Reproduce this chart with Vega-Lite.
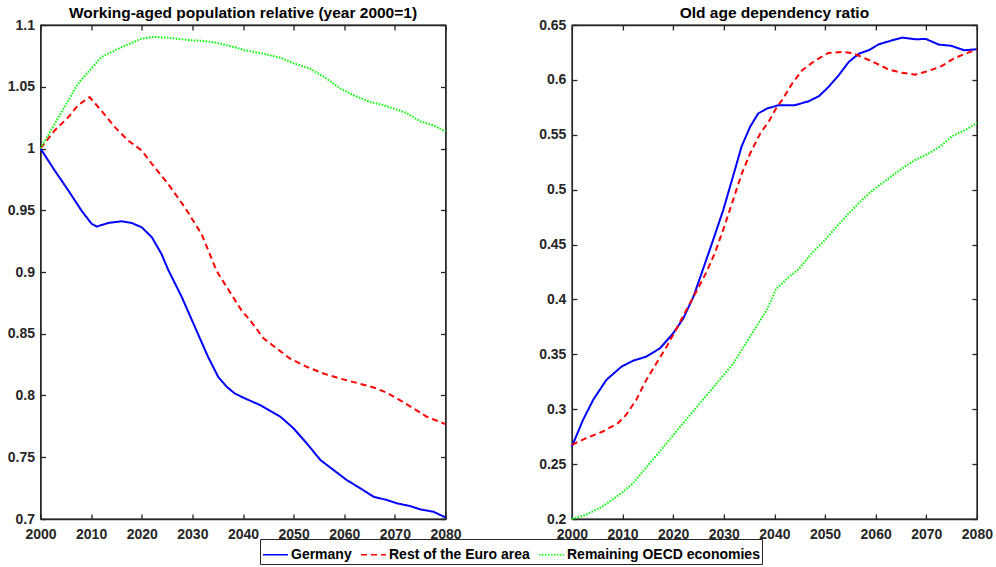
{
  "$schema": "https://vega.github.io/schema/vega-lite/v6.json",
  "padding": {"left": 3.5, "top": 5, "right": 0, "bottom": 0},
  "background": "white",
  "config": {
    "font": "Liberation Sans",
    "view": {"stroke": "#262626", "strokeWidth": 1.3},
    "axis": {"domainColor": "#262626", "domainWidth": 1.3, "tickColor": "#262626", "tickWidth": 1.3, "tickSize": -5, "labelFont": "Liberation Sans", "labelFontWeight": "bold", "labelFontSize": 14, "labelColor": "#262626", "grid": false, "title": null, "labelFlush": false, "labelOverlap": false},
    "title": {"fontSize": 15.5, "fontWeight": "bold", "font": "Liberation Sans", "color": "#000000", "offset": -3.3}
  },
  "datasets": {
    "wap": [
      {"s": "Germany", "year": 2000, "v": 1.0}, {"s": "Germany", "year": 2002.8, "v": 0.9822}, {"s": "Germany", "year": 2005.5, "v": 0.966}, {"s": "Germany", "year": 2008.1, "v": 0.9497}, {"s": "Germany", "year": 2010.1, "v": 0.939}, {"s": "Germany", "year": 2011.1, "v": 0.9368}, {"s": "Germany", "year": 2013.4, "v": 0.9397}, {"s": "Germany", "year": 2016, "v": 0.9411}, {"s": "Germany", "year": 2018, "v": 0.9397}, {"s": "Germany", "year": 2020, "v": 0.9362}, {"s": "Germany", "year": 2022, "v": 0.9281}, {"s": "Germany", "year": 2023.9, "v": 0.9146}, {"s": "Germany", "year": 2025.2, "v": 0.902}, {"s": "Germany", "year": 2027.9, "v": 0.8798}, {"s": "Germany", "year": 2030.5, "v": 0.8555}, {"s": "Germany", "year": 2033.1, "v": 0.8313}, {"s": "Germany", "year": 2035.1, "v": 0.8151}, {"s": "Germany", "year": 2036.8, "v": 0.807}, {"s": "Germany", "year": 2038.4, "v": 0.8016}, {"s": "Germany", "year": 2040.2, "v": 0.798}, {"s": "Germany", "year": 2043.4, "v": 0.7922}, {"s": "Germany", "year": 2047.4, "v": 0.7828}, {"s": "Germany", "year": 2050, "v": 0.7733}, {"s": "Germany", "year": 2052.6, "v": 0.7612}, {"s": "Germany", "year": 2055.3, "v": 0.7477}, {"s": "Germany", "year": 2057.9, "v": 0.7396}, {"s": "Germany", "year": 2060.5, "v": 0.7315}, {"s": "Germany", "year": 2063.2, "v": 0.7248}, {"s": "Germany", "year": 2065.8, "v": 0.718}, {"s": "Germany", "year": 2068.4, "v": 0.7154}, {"s": "Germany", "year": 2070.4, "v": 0.7127}, {"s": "Germany", "year": 2073, "v": 0.7105}, {"s": "Germany", "year": 2075, "v": 0.7078}, {"s": "Germany", "year": 2077.6, "v": 0.7059}, {"s": "Germany", "year": 2080, "v": 0.7013},
      {"s": "Rest of the Euro area", "year": 2000, "v": 1.0}, {"s": "Rest of the Euro area", "year": 2002.8, "v": 1.0146}, {"s": "Rest of the Euro area", "year": 2005.5, "v": 1.0254}, {"s": "Rest of the Euro area", "year": 2007.4, "v": 1.035}, {"s": "Rest of the Euro area", "year": 2009.7, "v": 1.0416}, {"s": "Rest of the Euro area", "year": 2012, "v": 1.0308}, {"s": "Rest of the Euro area", "year": 2014.7, "v": 1.0173}, {"s": "Rest of the Euro area", "year": 2017.3, "v": 1.0065}, {"s": "Rest of the Euro area", "year": 2020, "v": 0.9984}, {"s": "Rest of the Euro area", "year": 2022, "v": 0.9876}, {"s": "Rest of the Euro area", "year": 2025.2, "v": 0.9714}, {"s": "Rest of the Euro area", "year": 2028.5, "v": 0.9524}, {"s": "Rest of the Euro area", "year": 2031.8, "v": 0.9308}, {"s": "Rest of the Euro area", "year": 2034.5, "v": 0.9038}, {"s": "Rest of the Euro area", "year": 2035.1, "v": 0.8987}, {"s": "Rest of the Euro area", "year": 2039.7, "v": 0.869}, {"s": "Rest of the Euro area", "year": 2041.4, "v": 0.8609}, {"s": "Rest of the Euro area", "year": 2044.1, "v": 0.8461}, {"s": "Rest of the Euro area", "year": 2046.7, "v": 0.838}, {"s": "Rest of the Euro area", "year": 2049.3, "v": 0.8299}, {"s": "Rest of the Euro area", "year": 2052.6, "v": 0.8232}, {"s": "Rest of the Euro area", "year": 2055.9, "v": 0.8178}, {"s": "Rest of the Euro area", "year": 2059.2, "v": 0.8137}, {"s": "Rest of the Euro area", "year": 2062.5, "v": 0.8102}, {"s": "Rest of the Euro area", "year": 2065.8, "v": 0.8065}, {"s": "Rest of the Euro area", "year": 2068.4, "v": 0.8022}, {"s": "Rest of the Euro area", "year": 2071, "v": 0.7962}, {"s": "Rest of the Euro area", "year": 2073.7, "v": 0.7895}, {"s": "Rest of the Euro area", "year": 2076.3, "v": 0.7828}, {"s": "Rest of the Euro area", "year": 2080, "v": 0.7768},
      {"s": "Remaining OECD economies", "year": 2000, "v": 1.0}, {"s": "Remaining OECD economies", "year": 2002.8, "v": 1.02}, {"s": "Remaining OECD economies", "year": 2005.5, "v": 1.0389}, {"s": "Remaining OECD economies", "year": 2007.4, "v": 1.0524}, {"s": "Remaining OECD economies", "year": 2009.7, "v": 1.0632}, {"s": "Remaining OECD economies", "year": 2012, "v": 1.074}, {"s": "Remaining OECD economies", "year": 2016, "v": 1.082}, {"s": "Remaining OECD economies", "year": 2020, "v": 1.089}, {"s": "Remaining OECD economies", "year": 2022, "v": 1.0903}, {"s": "Remaining OECD economies", "year": 2025.2, "v": 1.0897}, {"s": "Remaining OECD economies", "year": 2029.8, "v": 1.0876}, {"s": "Remaining OECD economies", "year": 2032.5, "v": 1.087}, {"s": "Remaining OECD economies", "year": 2035, "v": 1.0854}, {"s": "Remaining OECD economies", "year": 2038.4, "v": 1.082}, {"s": "Remaining OECD economies", "year": 2040.4, "v": 1.0795}, {"s": "Remaining OECD economies", "year": 2043.4, "v": 1.0773}, {"s": "Remaining OECD economies", "year": 2047.4, "v": 1.0735}, {"s": "Remaining OECD economies", "year": 2050, "v": 1.069}, {"s": "Remaining OECD economies", "year": 2053.3, "v": 1.0646}, {"s": "Remaining OECD economies", "year": 2056, "v": 1.058}, {"s": "Remaining OECD economies", "year": 2059.3, "v": 1.0484}, {"s": "Remaining OECD economies", "year": 2061.9, "v": 1.043}, {"s": "Remaining OECD economies", "year": 2065.2, "v": 1.0376}, {"s": "Remaining OECD economies", "year": 2067.8, "v": 1.035}, {"s": "Remaining OECD economies", "year": 2070.5, "v": 1.0313}, {"s": "Remaining OECD economies", "year": 2072.4, "v": 1.0286}, {"s": "Remaining OECD economies", "year": 2075, "v": 1.022}, {"s": "Remaining OECD economies", "year": 2077.7, "v": 1.0186}, {"s": "Remaining OECD economies", "year": 2080, "v": 1.0138}
    ],
    "oadr": [
      {"s": "Germany", "year": 2000, "v": 0.266}, {"s": "Germany", "year": 2002.2, "v": 0.2903}, {"s": "Germany", "year": 2004.2, "v": 0.3085}, {"s": "Germany", "year": 2006.8, "v": 0.3267}, {"s": "Germany", "year": 2009.8, "v": 0.3388}, {"s": "Germany", "year": 2012.1, "v": 0.3442}, {"s": "Germany", "year": 2014.7, "v": 0.3479}, {"s": "Germany", "year": 2017.4, "v": 0.3555}, {"s": "Germany", "year": 2020, "v": 0.3691}, {"s": "Germany", "year": 2022, "v": 0.3827}, {"s": "Germany", "year": 2024, "v": 0.4024}, {"s": "Germany", "year": 2025.9, "v": 0.4276}, {"s": "Germany", "year": 2027.9, "v": 0.4542}, {"s": "Germany", "year": 2029.9, "v": 0.4815}, {"s": "Germany", "year": 2031.9, "v": 0.5133}, {"s": "Germany", "year": 2033.5, "v": 0.5391}, {"s": "Germany", "year": 2035.2, "v": 0.5573}, {"s": "Germany", "year": 2036.8, "v": 0.5694}, {"s": "Germany", "year": 2038.5, "v": 0.5739}, {"s": "Germany", "year": 2040.9, "v": 0.577}, {"s": "Germany", "year": 2044.1, "v": 0.577}, {"s": "Germany", "year": 2046.8, "v": 0.5806}, {"s": "Germany", "year": 2048.8, "v": 0.5852}, {"s": "Germany", "year": 2050.7, "v": 0.5936}, {"s": "Germany", "year": 2052.7, "v": 0.6042}, {"s": "Germany", "year": 2054.7, "v": 0.6164}, {"s": "Germany", "year": 2056.7, "v": 0.6239}, {"s": "Germany", "year": 2058.6, "v": 0.627}, {"s": "Germany", "year": 2060.6, "v": 0.6324}, {"s": "Germany", "year": 2063.3, "v": 0.6361}, {"s": "Germany", "year": 2065.2, "v": 0.6385}, {"s": "Germany", "year": 2067.9, "v": 0.637}, {"s": "Germany", "year": 2069.9, "v": 0.6373}, {"s": "Germany", "year": 2072.5, "v": 0.6321}, {"s": "Germany", "year": 2074.8, "v": 0.6312}, {"s": "Germany", "year": 2077.5, "v": 0.627}, {"s": "Germany", "year": 2080, "v": 0.6279},
      {"s": "Rest of the Euro area", "year": 2000, "v": 0.2676}, {"s": "Rest of the Euro area", "year": 2002.8, "v": 0.2736}, {"s": "Rest of the Euro area", "year": 2006.1, "v": 0.2797}, {"s": "Rest of the Euro area", "year": 2009.1, "v": 0.2873}, {"s": "Rest of the Euro area", "year": 2010.7, "v": 0.2948}, {"s": "Rest of the Euro area", "year": 2012.7, "v": 0.3085}, {"s": "Rest of the Euro area", "year": 2014.7, "v": 0.3267}, {"s": "Rest of the Euro area", "year": 2016.7, "v": 0.3418}, {"s": "Rest of the Euro area", "year": 2018.7, "v": 0.357}, {"s": "Rest of the Euro area", "year": 2020.7, "v": 0.3736}, {"s": "Rest of the Euro area", "year": 2022.6, "v": 0.3903}, {"s": "Rest of the Euro area", "year": 2024.6, "v": 0.4075}, {"s": "Rest of the Euro area", "year": 2026.6, "v": 0.425}, {"s": "Rest of the Euro area", "year": 2028.3, "v": 0.443}, {"s": "Rest of the Euro area", "year": 2030, "v": 0.465}, {"s": "Rest of the Euro area", "year": 2031.8, "v": 0.49}, {"s": "Rest of the Euro area", "year": 2033.5, "v": 0.514}, {"s": "Rest of the Euro area", "year": 2035.2, "v": 0.533}, {"s": "Rest of the Euro area", "year": 2037.2, "v": 0.5512}, {"s": "Rest of the Euro area", "year": 2039, "v": 0.563}, {"s": "Rest of the Euro area", "year": 2040.3, "v": 0.5739}, {"s": "Rest of the Euro area", "year": 2041.5, "v": 0.5815}, {"s": "Rest of the Euro area", "year": 2043.5, "v": 0.5967}, {"s": "Rest of the Euro area", "year": 2045.5, "v": 0.6088}, {"s": "Rest of the Euro area", "year": 2048.1, "v": 0.6179}, {"s": "Rest of the Euro area", "year": 2050.7, "v": 0.6245}, {"s": "Rest of the Euro area", "year": 2053.4, "v": 0.6255}, {"s": "Rest of the Euro area", "year": 2055.3, "v": 0.6245}, {"s": "Rest of the Euro area", "year": 2057.3, "v": 0.6209}, {"s": "Rest of the Euro area", "year": 2059.9, "v": 0.6155}, {"s": "Rest of the Euro area", "year": 2062.6, "v": 0.6094}, {"s": "Rest of the Euro area", "year": 2065.2, "v": 0.6064}, {"s": "Rest of the Euro area", "year": 2067.8, "v": 0.6048}, {"s": "Rest of the Euro area", "year": 2070.5, "v": 0.6082}, {"s": "Rest of the Euro area", "year": 2073.1, "v": 0.6127}, {"s": "Rest of the Euro area", "year": 2075.4, "v": 0.6194}, {"s": "Rest of the Euro area", "year": 2077.7, "v": 0.6239}, {"s": "Rest of the Euro area", "year": 2080, "v": 0.6276},
      {"s": "Remaining OECD economies", "year": 2000, "v": 0.2}, {"s": "Remaining OECD economies", "year": 2002.8, "v": 0.2039}, {"s": "Remaining OECD economies", "year": 2006.1, "v": 0.2115}, {"s": "Remaining OECD economies", "year": 2009.8, "v": 0.2236}, {"s": "Remaining OECD economies", "year": 2012.1, "v": 0.2327}, {"s": "Remaining OECD economies", "year": 2015.4, "v": 0.2509}, {"s": "Remaining OECD economies", "year": 2018.7, "v": 0.2691}, {"s": "Remaining OECD economies", "year": 2022, "v": 0.2873}, {"s": "Remaining OECD economies", "year": 2025.3, "v": 0.3055}, {"s": "Remaining OECD economies", "year": 2028.6, "v": 0.3236}, {"s": "Remaining OECD economies", "year": 2031.9, "v": 0.3418}, {"s": "Remaining OECD economies", "year": 2035.2, "v": 0.3661}, {"s": "Remaining OECD economies", "year": 2038.5, "v": 0.3903}, {"s": "Remaining OECD economies", "year": 2040.3, "v": 0.4091}, {"s": "Remaining OECD economies", "year": 2042.5, "v": 0.419}, {"s": "Remaining OECD economies", "year": 2044.8, "v": 0.4276}, {"s": "Remaining OECD economies", "year": 2047.4, "v": 0.4421}, {"s": "Remaining OECD economies", "year": 2049.7, "v": 0.4527}, {"s": "Remaining OECD economies", "year": 2052, "v": 0.4648}, {"s": "Remaining OECD economies", "year": 2054.7, "v": 0.4785}, {"s": "Remaining OECD economies", "year": 2057.3, "v": 0.4906}, {"s": "Remaining OECD economies", "year": 2059.9, "v": 0.5012}, {"s": "Remaining OECD economies", "year": 2062.6, "v": 0.5103}, {"s": "Remaining OECD economies", "year": 2065.2, "v": 0.5194}, {"s": "Remaining OECD economies", "year": 2067.8, "v": 0.527}, {"s": "Remaining OECD economies", "year": 2070.5, "v": 0.533}, {"s": "Remaining OECD economies", "year": 2073.1, "v": 0.5406}, {"s": "Remaining OECD economies", "year": 2075.1, "v": 0.5488}, {"s": "Remaining OECD economies", "year": 2077.7, "v": 0.5542}, {"s": "Remaining OECD economies", "year": 2080, "v": 0.5609}
    ]
  },
  "hconcat": [
    {
      "width": 405, "height": 494,
      "title": {"text": "Working-aged population relative (year 2000=1)", "anchor": "middle"},
      "data": {"name": "wap"},
      "layer": [
        {
          "mark": {"type": "line", "strokeWidth": 2},
          "encoding": {
            "x": {"field": "year", "type": "quantitative", "scale": {"domain": [2000, 2080], "nice": false, "zero": false}, "axis": {"orient": "bottom", "values": [2000, 2010, 2020, 2030, 2040, 2050, 2060, 2070, 2080], "format": "d", "labelPadding": 13}},
            "y": {"field": "v", "type": "quantitative", "scale": {"domain": [0.7, 1.1], "nice": false, "zero": false}, "axis": {"orient": "left", "values": [0.7, 0.75, 0.8, 0.85, 0.9, 0.95, 1, 1.05, 1.1], "format": "~g", "labelPadding": 11, "minExtent": 35.5, "maxExtent": 35.5}},
            "color": {"field": "s", "type": "nominal", "scale": {"domain": ["Germany", "Rest of the Euro area", "Remaining OECD economies"], "range": ["#0000ff", "#ff0000", "#00ff00"]}, "legend": {"orient": "none", "legendX": 219.5, "legendY": 514, "direction": "horizontal", "title": null, "strokeColor": "#262626", "fillColor": "white", "padding": 2, "symbolType": "stroke", "symbolSize": 625, "symbolStrokeWidth": 1.5, "labelFontSize": 14, "labelFontWeight": "bold", "labelColor": "#000000", "labelOffset": 2, "columnPadding": 6, "labelFont": "Liberation Sans", "labelLimit": 400}},
            "strokeDash": {"field": "s", "type": "nominal", "scale": {"domain": ["Germany", "Rest of the Euro area", "Remaining OECD economies"], "range": [[1, 0], [6, 4], [1.5, 1.5]]}, "legend": {"orient": "none", "legendX": 219.5, "legendY": 514, "direction": "horizontal", "title": null, "strokeColor": "#262626", "fillColor": "white", "padding": 2, "symbolType": "stroke", "symbolSize": 625, "symbolStrokeWidth": 1.5, "labelFontSize": 14, "labelFontWeight": "bold", "labelColor": "#000000", "labelOffset": 2, "columnPadding": 6, "labelFont": "Liberation Sans", "labelLimit": 400}}
          }
        },
        {
          "mark": {"type": "point", "opacity": 0},
          "encoding": {
            "x": {"field": "year", "type": "quantitative", "scale": {"domain": [2000, 2080], "nice": false, "zero": false}, "axis": {"orient": "top", "values": [2000, 2010, 2020, 2030, 2040, 2050, 2060, 2070, 2080], "labels": false, "minExtent": 0, "maxExtent": 0}},
            "y": {"field": "v", "type": "quantitative", "scale": {"domain": [0.7, 1.1], "nice": false, "zero": false}, "axis": {"orient": "right", "values": [0.7, 0.75, 0.8, 0.85, 0.9, 0.95, 1, 1.05, 1.1], "labels": false, "minExtent": 0, "maxExtent": 0}}
          }
        }
      ],
      "resolve": {"axis": {"x": "independent", "y": "independent"}}
    },
    {
      "width": 405, "height": 494,
      "title": {"text": "Old age dependency ratio", "anchor": "middle"},
      "data": {"name": "oadr"},
      "layer": [
        {
          "mark": {"type": "line", "strokeWidth": 2},
          "encoding": {
            "x": {"field": "year", "type": "quantitative", "scale": {"domain": [2000, 2080], "nice": false, "zero": false}, "axis": {"orient": "bottom", "values": [2000, 2010, 2020, 2030, 2040, 2050, 2060, 2070, 2080], "format": "d", "labelPadding": 13}},
            "y": {"field": "v", "type": "quantitative", "scale": {"domain": [0.2, 0.65], "nice": false, "zero": false}, "axis": {"orient": "left", "values": [0.2, 0.25, 0.3, 0.35, 0.4, 0.45, 0.5, 0.55, 0.6, 0.65], "format": "~g", "labelPadding": 11, "minExtent": 35.5, "maxExtent": 35.5}},
            "color": {"field": "s", "type": "nominal", "scale": {"domain": ["Germany", "Rest of the Euro area", "Remaining OECD economies"], "range": ["#0000ff", "#ff0000", "#00ff00"]}, "legend": {"orient": "none", "legendX": 219.5, "legendY": 514, "direction": "horizontal", "title": null, "strokeColor": "#262626", "fillColor": "white", "padding": 2, "symbolType": "stroke", "symbolSize": 625, "symbolStrokeWidth": 1.5, "labelFontSize": 14, "labelFontWeight": "bold", "labelColor": "#000000", "labelOffset": 2, "columnPadding": 6, "labelFont": "Liberation Sans", "labelLimit": 400}},
            "strokeDash": {"field": "s", "type": "nominal", "scale": {"domain": ["Germany", "Rest of the Euro area", "Remaining OECD economies"], "range": [[1, 0], [6, 4], [1.5, 1.5]]}, "legend": {"orient": "none", "legendX": 219.5, "legendY": 514, "direction": "horizontal", "title": null, "strokeColor": "#262626", "fillColor": "white", "padding": 2, "symbolType": "stroke", "symbolSize": 625, "symbolStrokeWidth": 1.5, "labelFontSize": 14, "labelFontWeight": "bold", "labelColor": "#000000", "labelOffset": 2, "columnPadding": 6, "labelFont": "Liberation Sans", "labelLimit": 400}}
          }
        },
        {
          "mark": {"type": "point", "opacity": 0},
          "encoding": {
            "x": {"field": "year", "type": "quantitative", "scale": {"domain": [2000, 2080], "nice": false, "zero": false}, "axis": {"orient": "top", "values": [2000, 2010, 2020, 2030, 2040, 2050, 2060, 2070, 2080], "labels": false, "minExtent": 0, "maxExtent": 0}},
            "y": {"field": "v", "type": "quantitative", "scale": {"domain": [0.2, 0.65], "nice": false, "zero": false}, "axis": {"orient": "right", "values": [0.2, 0.25, 0.3, 0.35, 0.4, 0.45, 0.5, 0.55, 0.6, 0.65], "labels": false, "minExtent": 0, "maxExtent": 0}}
          }
        }
      ],
      "resolve": {"axis": {"x": "independent", "y": "independent"}}
    }
  ],
  "spacing": 72.4,
  "resolve": {"scale": {"color": "shared", "strokeDash": "shared"}}
}
